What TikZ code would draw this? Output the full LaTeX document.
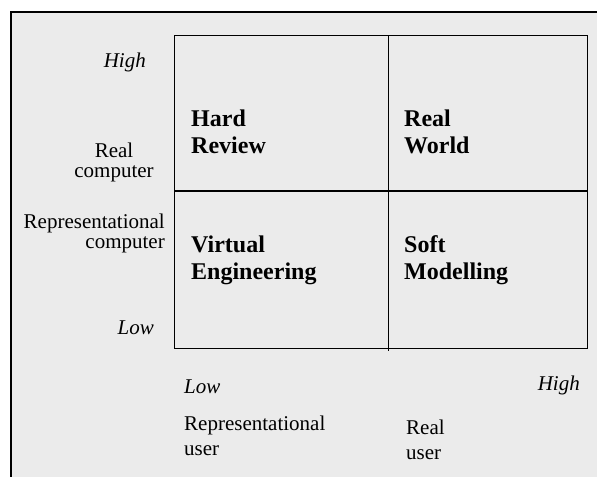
\documentclass[tikz,border=0pt]{standalone}
\usepackage{fontspec}
\setmainfont{Liberation Serif}
\definecolor{paper}{HTML}{EBEBEB}
\newcommand{\boxLeft}{174}
\newcommand{\boxTop}{35}
\newcommand{\boxRight}{587}
\newcommand{\boxBottom}{348}
\newcommand{\midX}{388}
\newcommand{\midY}{191}

\begin{document}
\begin{tikzpicture}[x=1pt, y=-1pt,
	quad/.style={font=\fontsize{24}{27}\selectfont\bfseries, align=left, anchor=base west, inner sep=0},
	axislbl/.style={font=\fontsize{21}{20}\selectfont, inner sep=0},
	level/.style={font=\fontsize{21}{24}\selectfont\itshape, inner sep=0}]
	\useasboundingbox (0,0) rectangle (597,477);
	% page frame
	\fill[paper] (11,12) rectangle (597,477);
	\draw[line width=1.2] (597,12) -- (11,12) -- (11,477);
	% the four quadrants
	\coordinate (nw) at (\boxLeft,\boxTop);
	\coordinate (se) at (\boxRight,\boxBottom);
	\coordinate (mid) at (\midX,\midY);
	\coordinate (midbot) at (\midX,\boxBottom+3);
	\draw[line width=1] (nw) rectangle (se);
	\draw[line width=2] (nw |- mid) -- (se |- mid);
	\draw[line width=1] (mid |- nw) -- (midbot);
	% base anchor sits on the last line
	\node[quad] (hard) at (191,153) {Hard\\Review};
	\node[quad] (world) at (404,153) {Real\\World};
	\node[quad] (virtual) at (191,279) {Virtual\\Engineering};
	\node[quad] (soft) at (404,279) {Soft\\Modelling};
	% vertical axis
	\node[level, anchor=base east] (yhigh) at (146,67) {High};
	\node[axislbl, align=center, anchor=base] (yreal) at (114,177) {Real\\computer};
	\node[axislbl, align=right, anchor=base east] (yrep) at (165,248) {Representational\\computer};
	\node[level, anchor=base east] (ylow) at (154,334) {Low};
	% horizontal axis
	\node[level, anchor=base west] (xlow) at (184,393) {Low};
	\node[level, anchor=base east] (xhigh) at (580,390) {High};
	\node[axislbl, font=\fontsize{21}{25}\selectfont, align=left, anchor=base west] (xrep) at (184,455) {Representational\\user};
	\node[axislbl, font=\fontsize{21}{25}\selectfont, align=left, anchor=base west] (xreal) at (406,459) {Real\\user};
\end{tikzpicture}
\end{document}
